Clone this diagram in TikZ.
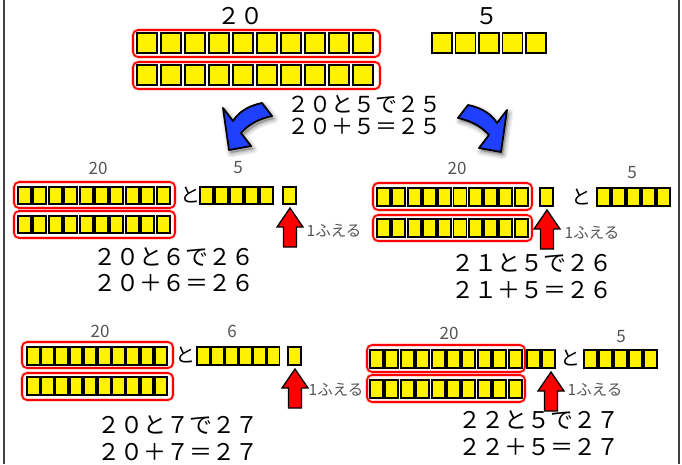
\documentclass[tikz,border=0pt]{standalone}
\usepackage{fontspec}
\newfontfamily\jp{Noto Sans CJK JP}
\definecolor{arrowblue}{RGB}{32,64,255}
\definecolor{labgray}{RGB}{85,85,85}
\newcommand\cuberow[6]{% left x, top y, count, width, height, pitch
  \foreach \i in {1,...,#3}{\draw[cube] ({#1+(\i-1)*#6},#2) rectangle ++(#4,#5);}}
\newcommand\upredarrow[2]{% tip x, tip y
  \draw[redarr] (#1,#2) -- ++(13,19) -- ++(-6.5,0) -- ++(0,20) -- ++(-13,0) -- ++(0,-20) -- ++(-6.5,0) -- cycle;}
\newcommand\bluearrowshape{(262,103) .. controls (247,106) and (238,113) .. (233,121) -- (223,108) -- (229,150) -- (251,146) -- (241,133) .. controls (248,125) and (258,119) .. (272,116) -- cycle}
\tikzset{
  cube/.style={fill=yellow, draw=black, line width=1.9pt},
  redbox/.style={draw=red, line width=1.6pt, rounded corners=5pt},
  redglow/.style={draw=red, opacity=0.25, line width=3.2pt, rounded corners=5pt},
  redarr/.style={fill=red, draw=black, line width=1.3pt, line join=miter},
  big/.style={font=\jp\fontsize{23}{23}\selectfont, inner sep=0pt},
  toptext/.style={font=\jp\fontsize{22}{22}\selectfont, inner sep=0pt},
  mid/.style={font=\jp\fontsize{20}{20}\selectfont, inner sep=0pt},
  lab/.style={font=\jp\fontsize{17}{17}\selectfont, text=labgray, inner sep=0pt},
  incr/.style={font=\jp\fontsize{15.5}{15.5}\selectfont, text=labgray, inner sep=0pt},
  frameline/.style={draw=black!75, line width=2pt},
  bluearr/.style={fill=arrowblue, draw=black, line width=1.8pt, line join=round},
}
\newcommand\twentybox[4]{% x1 y1 x2 y2
  \draw[redglow] (#1,#2) rectangle (#3,#4);
  \draw[redbox] (#1,#2) rectangle (#3,#4);}
\begin{document}
\begin{tikzpicture}[x=1pt,y=-1pt]
\useasboundingbox (0,0) rectangle (682,464);
\fill[white] (0,0) rectangle (682,464);
% frame
\draw[frameline] (4,0) -- (4,464);
\draw[frameline] (679,0) -- (679,464);

% ---------- top ----------
\node[big] (t20) at (240,16) {２０};
\node[big] (t5) at (487,16) {５};
\twentybox{133}{30}{380}{57}
\cuberow{137}{33}{10}{20}{20}{24}
\twentybox{133}{62}{380}{89}
\cuberow{137}{65}{10}{20}{20}{24}
\cuberow{432}{33}{5}{20}{20}{23.5}
\node[toptext] (tl1) at (364,104) {２０と５で２５};
\node[toptext] (tl2) at (364,126) {２０＋５＝２５};

% blue curved arrows with soft shadow
\foreach \w/\o in {9/0.06,6/0.08,3/0.1}{
  \fill[black,opacity=\o] [shift={(2,3)}] \bluearrowshape;
  \draw[black,opacity=\o,line width=\w pt,line join=round] [shift={(2,3)}] \bluearrowshape;
}
\draw[bluearr] \bluearrowshape;
\begin{scope}[shift={(730,2)}, xscale=-1]
\foreach \w/\o in {9/0.06,6/0.08,3/0.1}{
  \fill[black,opacity=\o] [shift={(-2,3)}] \bluearrowshape;
  \draw[black,opacity=\o,line width=\w pt,line join=round] [shift={(-2,3)}] \bluearrowshape;
}
\draw[bluearr] \bluearrowshape;
\end{scope}

% ---------- middle left ----------
\node[lab] (ml20) at (98,168) {20};
\node[lab] (ml5) at (238,168) {5};
\twentybox{14}{182}{175}{208}
\cuberow{18}{187}{10}{13}{17}{15.4}
\twentybox{14}{211}{175}{238}
\cuberow{18}{216}{10}{13}{17}{15.4}
\node[mid] (mlto) at (190,195) {と};
\cuberow{200}{187}{5}{13}{17}{15}
\cuberow{283}{187}{1}{13}{17}{15}
\upredarrow{290}{208}
\node[incr] (mlinc) at (334,231) {1ふえる};
\node[big] (ml1) at (174,257) {２０と６で２６};
\node[big] (ml2) at (174,283) {２０＋６＝２６};

% ---------- middle right ----------
\node[lab] (mr20) at (457,168) {20};
\node[lab] (mr5) at (632,173) {5};
\twentybox{373}{183}{532}{210}
\cuberow{377}{188}{10}{13}{18}{15.3}
\twentybox{373}{215}{532}{241}
\cuberow{377}{219}{10}{13}{18}{15.3}
\cuberow{540}{188}{1}{13}{18}{15}
\node[mid] (mrto) at (581,197) {と};
\cuberow{597}{188}{5}{13}{18}{15}
\upredarrow{547}{210}
\node[incr] (mrinc) at (592,233) {1ふえる};
\node[big] (mr1) at (532,263) {２１と５で２６};
\node[big] (mr2) at (532,290) {２１＋５＝２６};

% ---------- bottom left ----------
\node[lab] (bl20) at (100,331) {20};
\node[lab] (bl6) at (232,331) {6};
\twentybox{22}{342}{173}{368}
\cuberow{27}{347}{10}{12.5}{18}{14.2}
\twentybox{22}{373}{173}{400}
\cuberow{27}{377}{10}{12.5}{18}{14.2}
\node[mid] (blto) at (185,355) {と};
\cuberow{197}{347}{6}{12.5}{18}{14}
\cuberow{288}{347}{1}{13}{18}{14}
\upredarrow{295}{369}
\node[incr] (blinc) at (336,390) {1ふえる};
\node[big] (bl1) at (178,425) {２０と７で２７};
\node[big] (bl2) at (178,452) {２０＋７＝２７};

% ---------- bottom right ----------
\node[lab] (br20) at (449,333) {20};
\node[lab] (br5) at (621,337) {5};
\twentybox{367}{345}{525}{372}
\cuberow{370}{350}{10}{13}{18}{15.4}
\twentybox{367}{375}{525}{402}
\cuberow{370}{380}{10}{13}{18}{15.4}
\cuberow{527}{350}{2}{13}{18}{15}
\node[mid] (brto) at (570,358) {と};
\cuberow{584}{350}{5}{13}{18}{15}
\upredarrow{551}{372}
\node[incr] (brinc) at (595,390) {1ふえる};
\node[big] (br1) at (539,420) {２２と５で２７};
\node[big] (br2) at (539,447) {２２＋５＝２７};
\end{tikzpicture}
\end{document}
